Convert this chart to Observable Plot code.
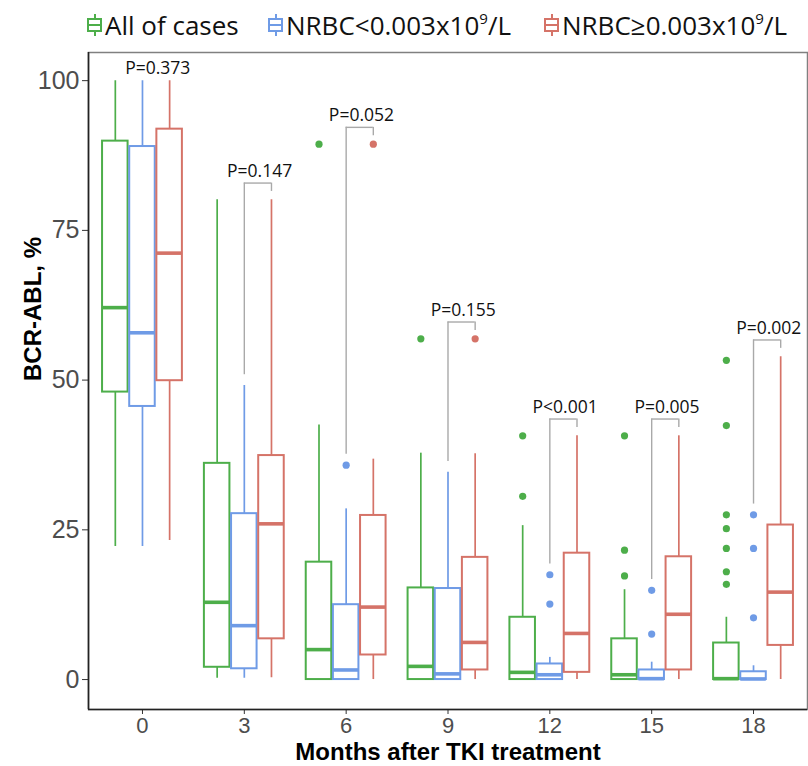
<!DOCTYPE html>
<html>
<head>
<meta charset="utf-8">
<script src="https://cdn.jsdelivr.net/npm/d3@7"></script>
<script src="https://cdn.jsdelivr.net/npm/@observablehq/plot@0.6"></script>
<style>
  body { margin: 0; background: #fff; }
  #legend { position: relative; width: 808px; height: 48px; font-family: "Open Sans", sans-serif; font-size: 26px; color: #111; }
  .item { position: absolute; top: 0; height: 50px; display: flex; align-items: center; white-space: nowrap; }
  .key { position: relative; width: 15px; height: 22px; margin-right: 3px; }
  .key .wh { position: absolute; left: 6.5px; top: 0; width: 2px; height: 22px; }
  .key .bx { position: absolute; left: 0; top: 4px; width: 11px; height: 10px; background: #fff; border: 2px solid; }
  .key .md { position: absolute; left: 0; top: 10px; width: 15px; height: 2px; }
  sup { font-size: 0.58em; line-height: 0; vertical-align: 0.75em; }
</style>
</head>
<body>
<div id="legend"></div>
<div id="chart"></div>
<script>
// ---- data ----
const months = [0, 3, 6, 9, 12, 15, 18];
const groupNames = ["All of cases", "NRBC<0.003x10<sup>9</sup>/L", "NRBC≥0.003x10<sup>9</sup>/L"];
const groupColors = ["#4dae4a", "#6f9be6", "#d57368"];

const allLow  = [22.2, 0.2, 0, 0, 0, 0, 0];
const allQ1   = [48.0, 2.05, 0, 0, 0, 0, 0];
const allMed  = [62.1, 12.9, 5.0, 2.2, 1.2, 0.8, 0.15];
const allQ3   = [89.9, 36.1, 19.6, 15.3, 10.4, 6.8, 6.1];
const allHigh = [100, 80.1, 42.5, 37.8, 25.7, 15.0, 10.4];
const allOut  = [[], [], [89.4], [56.9], [40.7, 30.6], [40.7, 21.6, 17.3], [53.3, 42.4, 27.5, 25.2, 21.9, 18.0, 15.9]];

const lowLow  = [22.2, 0.2, 0, 0, 0, 0, 0];
const lowQ1   = [45.6, 1.8, 0, 0, 0, 0, 0];
const lowMed  = [57.9, 9.0, 1.6, 0.95, 0.8, 0.15, 0.1];
const lowQ3   = [89.0, 27.7, 12.5, 15.2, 2.6, 1.6, 1.3];
const lowHigh = [100, 49.1, 28.5, 34.6, 3.7, 2.9, 2.3];
const lowOut  = [[], [], [35.8], [], [17.5, 12.6], [14.9, 7.6], [27.5, 21.9, 10.3]];

const highLow  = [23.2, 0.3, 0, 0, 0, 0, 0];
const highQ1   = [49.9, 6.8, 4.1, 1.6, 1.2, 1.6, 5.7];
const highMed  = [71.2, 26.0, 12.1, 6.2, 7.7, 10.9, 14.6];
const highQ3   = [91.9, 37.4, 27.4, 20.4, 21.1, 20.5, 25.8];
const highHigh = [100, 80.1, 36.8, 37.7, 40.7, 40.7, 53.9];
const highOut  = [[], [], [89.4], [56.9], [], [], []];

const pLabels = ["P=0.373", "P=0.147", "P=0.052", "P=0.155", "P<0.001", "P=0.005", "P=0.002"];
const yTicks = [0, 25, 50, 75, 100];

// ---- layout constants ----
const off = 0.8, hw = 0.376;
const xDomain = [-1.59, 19.59];
const yDomain = [-5, 104.7];

const groups = [
  {color: groupColors[0], dx: -off, low: allLow, q1: allQ1, med: allMed, q3: allQ3, high: allHigh, out: allOut},
  {color: groupColors[1], dx: 0, low: lowLow, q1: lowQ1, med: lowMed, q3: lowQ3, high: lowHigh, out: lowOut},
  {color: groupColors[2], dx: off, low: highLow, q1: highQ1, med: highMed, q3: highQ3, high: highHigh, out: highOut}
];

// legend
const legendPos = [[87, 103], [268, 285], [544, 562]];
const legend = document.getElementById("legend");
groupNames.forEach((name, i) => {
  const it = document.createElement("div");
  it.className = "item";
  it.style.left = legendPos[i][0] + "px";
  const c = groupColors[i];
  it.innerHTML = `<div class="key"><div class="wh" style="background:${c}"></div><div class="bx" style="border-color:${c}"></div><div class="md" style="background:${c}"></div></div><span>${name}</span>`;
  legend.appendChild(it);
});

const marks = [];
marks.push(Plot.frame({stroke: "#808080", strokeWidth: 1.5}));

groups.forEach(g => {
  const rows = months.map((m, i) => ({x: m + g.dx, lo: g.low[i], q1: g.q1[i], med: g.med[i], q3: g.q3[i], hi: g.high[i]}));
  const outs = months.flatMap((m, i) => g.out[i].map(v => ({x: m + g.dx, y: v})));
  marks.push(
    Plot.ruleX(rows, {x: "x", y1: "lo", y2: "hi", stroke: g.color, strokeWidth: 1.7}),
    Plot.rect(rows, {x1: d => d.x - hw, x2: d => d.x + hw, y1: "q1", y2: "q3", fill: "white", stroke: g.color, strokeWidth: 2}),
    Plot.ruleY(rows, {y: "med", x1: d => d.x - hw, x2: d => d.x + hw, stroke: g.color, strokeWidth: 3.6}),
    Plot.dot(outs, {x: "x", y: "y", r: 3.6, fill: g.color, stroke: null})
  );
});

// brackets between low and high NRBC groups
const blueMax = months.map((m, i) => Math.max(lowHigh[i], ...lowOut[i]));
const redMax = months.map((m, i) => Math.max(highHigh[i], ...highOut[i]));
const br = months.map((m, i) => {
  const top = redMax[i] + 2.8;
  return {m, i, top, show: top <= 100, leftEnd: blueMax[i] + 1.8, rightEnd: redMax[i] + 1.4, label: pLabels[i], ly: Math.min(top, 100)};
});
const shown = br.filter(d => d.show);
const bracketColor = "#a9a9a9";
marks.push(
  Plot.ruleX(shown, {x: "m", y1: "leftEnd", y2: "top", stroke: bracketColor, strokeWidth: 1.4}),
  Plot.ruleX(shown, {x: d => d.m + off, y1: "rightEnd", y2: "top", stroke: bracketColor, strokeWidth: 1.4}),
  Plot.ruleY(shown, {y: "top", x1: "m", x2: d => d.m + off, stroke: bracketColor, strokeWidth: 1.4}),
  Plot.text(br, {x: d => d.m + off / 2 + 0.05, y: "ly", text: "label", dy: -12, fontSize: 17.5, fill: "#111", fontFamily: "Open Sans, sans-serif"})
);

// axes
marks.push(
  Plot.axisY({ticks: yTicks, tickSize: 6, tickPadding: 3, fontSize: 25, fill: "#4d4d4d", stroke: "#333", label: null}),
  Plot.axisX({ticks: months, tickFormat: d => String(d), tickSize: 5, tickPadding: 3, fontSize: 22, fill: "#4d4d4d", stroke: "#333", label: null}),
  Plot.ruleX([xDomain[0]], {stroke: "#222", strokeWidth: 1.6}),
  Plot.ruleY([yDomain[0]], {stroke: "#222", strokeWidth: 1.6}),
  Plot.text(["BCR-ABL, %"], {frameAnchor: "left", rotate: -90, dx: -55, fontSize: 24, fontWeight: "bold", fill: "#000"}),
  Plot.text(["Months after TKI treatment"], {frameAnchor: "bottom", dy: 50, fontSize: 24, fontWeight: "bold", fill: "#000"})
);

const chart = Plot.plot({
  width: 808,
  height: 718,
  marginTop: 4,
  marginRight: 1,
  marginBottom: 57,
  marginLeft: 88,
  x: {type: "linear", domain: xDomain},
  y: {domain: yDomain},
  style: {fontFamily: "Liberation Sans, Arial, sans-serif", background: "white", overflow: "visible"},
  marks
});
document.getElementById("chart").appendChild(chart);
</script>
</body>
</html>
